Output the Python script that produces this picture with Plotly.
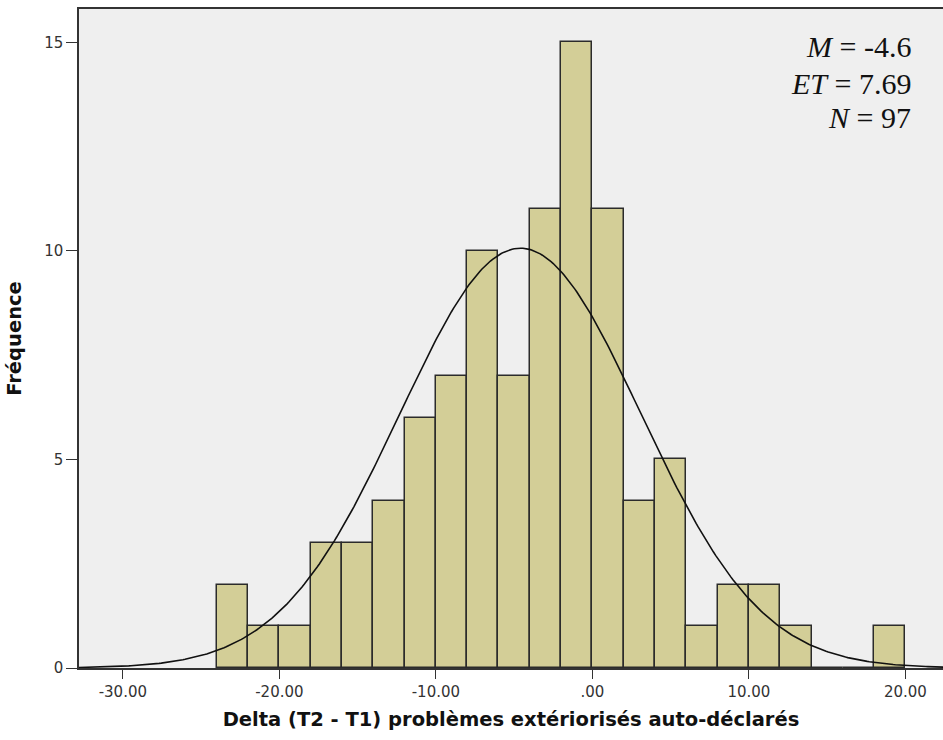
import numpy as np
import plotly.graph_objects as go

# Histogram of change scores (bin width 2)
bin_left = [-24, -22, -20, -18, -16, -14, -12, -10, -8, -6, -4, -2,
            0, 2, 4, 6, 8, 10, 12, 14, 16, 18]
counts = [2, 1, 1, 3, 3, 4, 6, 7, 10, 7, 11, 15,
          11, 4, 5, 1, 2, 2, 1, 0, 0, 1]
bin_width = 2

# Summary statistics
mean_val = -4.6
sd_val = 7.69
n_val = 97

x_tickvals = [-30, -20, -10, 0, 10, 20]
x_ticktext = ["-30.00", "-20.00", "-10.00", ".00", "10.00", "20.00"]
y_tickvals = [0, 5, 10, 15]

x_range = [-32.8, 22.4]
y_range = [0, 15.8]

centers = [b + bin_width / 2 for b in bin_left]

# Fitted normal curve scaled to counts
xc = np.linspace(x_range[0], x_range[1], 400)
yc = n_val * bin_width / (sd_val * np.sqrt(2 * np.pi)) * np.exp(-0.5 * ((xc - mean_val) / sd_val) ** 2)

fig = go.Figure()
fig.add_trace(go.Bar(
    x=centers, y=counts, width=bin_width,
    marker=dict(color="#D3CE97", line=dict(color="#2b2b2b", width=1.5)),
    hoverinfo="x+y",
))
fig.add_trace(go.Scatter(
    x=xc, y=yc, mode="lines",
    line=dict(color="#111111", width=1.6),
    hoverinfo="skip",
))

fig.update_layout(
    width=943, height=740,
    margin=dict(l=79, r=0, t=9, b=72),
    paper_bgcolor="white",
    plot_bgcolor="#EFEFEF",
    showlegend=False,
    bargap=0,
    font=dict(family="DejaVu Sans, Verdana, sans-serif", color="#222222"),
)

fig.update_xaxes(
    range=x_range, tickvals=x_tickvals, ticktext=x_ticktext,
    ticks="outside", ticklen=9, tickwidth=1.3, tickcolor="#333333",
    showgrid=False, zeroline=False,
    showline=True, linecolor="#333333", linewidth=1.5, mirror=True,
    tickfont=dict(size=15, color="#333333"),
    title=dict(text="<b>Delta (T2 - T1) problèmes extériorisés auto-déclarés</b>",
               font=dict(size=19.5, color="#111111"), standoff=13),
)
fig.update_yaxes(
    range=y_range, tickvals=y_tickvals,
    ticks="outside", ticklen=11, tickwidth=1.3, tickcolor="#333333",
    showgrid=False, zeroline=False,
    showline=True, linecolor="#333333", linewidth=1.5,
    tickfont=dict(size=15, color="#333333"),
    title=dict(text="<b>Fréquence</b>", font=dict(size=19.5, color="#111111"), standoff=17),
)

# Statistics block, one line per annotation
stat_lines = [
    (f"<i>M</i> = {mean_val}", 0.9438),
    (f"<i>ET</i> = {sd_val}", 0.8877),
    (f"<i>N</i> = {n_val}", 0.8346),
]
for txt, ypos in stat_lines:
    fig.add_annotation(
        xref="paper", yref="paper", x=0.9653, y=ypos,
        xanchor="right", yanchor="middle", align="right", showarrow=False,
        text=txt,
        font=dict(family="Liberation Serif, Times New Roman, serif", size=30, color="#111111"),
    )

fig.write_html("out.html")
